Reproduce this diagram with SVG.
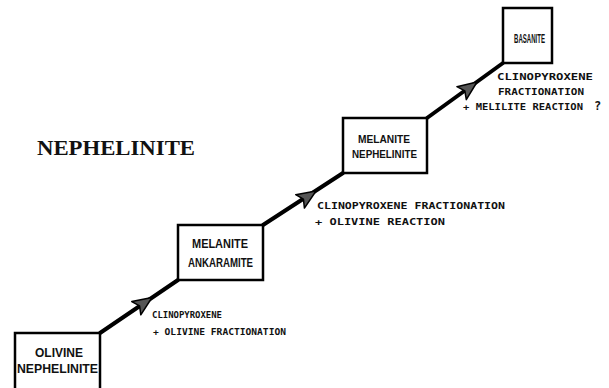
<svg xmlns="http://www.w3.org/2000/svg" width="609" height="388" viewBox="0 0 609 388">
<style>
.box{fill:#fff;stroke:#000;stroke-width:2.5}
.bt{font-family:"Liberation Sans",Arial,sans-serif;font-weight:bold;font-size:13px;fill:#111;text-anchor:start}
.lb{font-family:"DejaVu Sans Mono","Liberation Mono",monospace;font-weight:bold;font-size:9.5px;fill:#111}
.sm{font-size:8.5px}
.ln{stroke:#000;stroke-width:4;fill:none;stroke-linecap:round}
.ttl{font-family:"Liberation Serif","Times New Roman",serif;font-weight:bold;font-size:22px;fill:#111}
</style>
<defs>
<path id="ah" d="M0,0 L-19,-8 L-15,0 L-19,8 Z" fill="#555" stroke="#000" stroke-width="1.5" stroke-linejoin="round"/>
</defs>
<rect width="609" height="388" fill="#fff"/>
<text class="ttl" x="37" y="155" textLength="158" lengthAdjust="spacingAndGlyphs">NEPHELINITE</text>
<g id="connectors">
<line class="ln" x1="100" y1="333" x2="178" y2="280"/>
<use href="#ah" transform="translate(152,297.5) rotate(-34.2)"/>
<line class="ln" x1="263" y1="225" x2="343" y2="173"/>
<use href="#ah" transform="translate(316,191) rotate(-33)"/>
<line class="ln" x1="427" y1="118" x2="503" y2="63"/>
<use href="#ah" transform="translate(477,82) rotate(-35.9)"/>
</g>
<g id="olivine-nephelinite">
<rect class="box" x="15" y="333" width="85" height="62"/>
<text class="bt" x="35" y="357" textLength="48" lengthAdjust="spacingAndGlyphs">OLIVINE</text>
<text class="bt" x="17" y="373" textLength="81" lengthAdjust="spacingAndGlyphs">NEPHELINITE</text>
</g>
<g id="melanite-ankaramite">
<rect class="box" x="178" y="225" width="85" height="55"/>
<text class="bt" x="192" y="248" textLength="56" lengthAdjust="spacingAndGlyphs">MELANITE</text>
<text class="bt" x="188" y="267" textLength="65" lengthAdjust="spacingAndGlyphs">ANKARAMITE</text>
</g>
<g id="melanite-nephelinite">
<rect class="box" x="343" y="118" width="84" height="55"/>
<text class="bt" x="358" y="143" textLength="52" lengthAdjust="spacingAndGlyphs" style="font-size:11.5px">MELANITE</text>
<text class="bt" x="352" y="158" textLength="65" lengthAdjust="spacingAndGlyphs" style="font-size:11.5px">NEPHELINITE</text>
</g>
<g id="basanite">
<rect class="box" x="503" y="8" width="49" height="55"/>
<text class="bt" x="514" y="43" textLength="31" lengthAdjust="spacingAndGlyphs" style="font-size:13px">BASANITE</text>
</g>
<g id="labels">
<text class="lb sm" x="152" y="318" textLength="70" lengthAdjust="spacingAndGlyphs">CLINOPYROXENE</text>
<text class="lb sm" x="153" y="335" textLength="133" lengthAdjust="spacingAndGlyphs">+ OLIVINE FRACTIONATION</text>
<text class="lb" x="317" y="209" textLength="188" lengthAdjust="spacingAndGlyphs">CLINOPYROXENE FRACTIONATION</text>
<text class="lb" x="315" y="225" textLength="130" lengthAdjust="spacingAndGlyphs">+ OLIVINE REACTION</text>
<text class="lb" x="497" y="80" textLength="96" lengthAdjust="spacingAndGlyphs">CLINOPYROXENE</text>
<text class="lb" x="498" y="95" textLength="86" lengthAdjust="spacingAndGlyphs">FRACTIONATION</text>
<text class="lb" x="463" y="110" textLength="120" lengthAdjust="spacingAndGlyphs">+ MELILITE REACTION</text>
<text class="lb" x="594" y="110" style="font-size:12px">?</text>
</g>
</svg>
